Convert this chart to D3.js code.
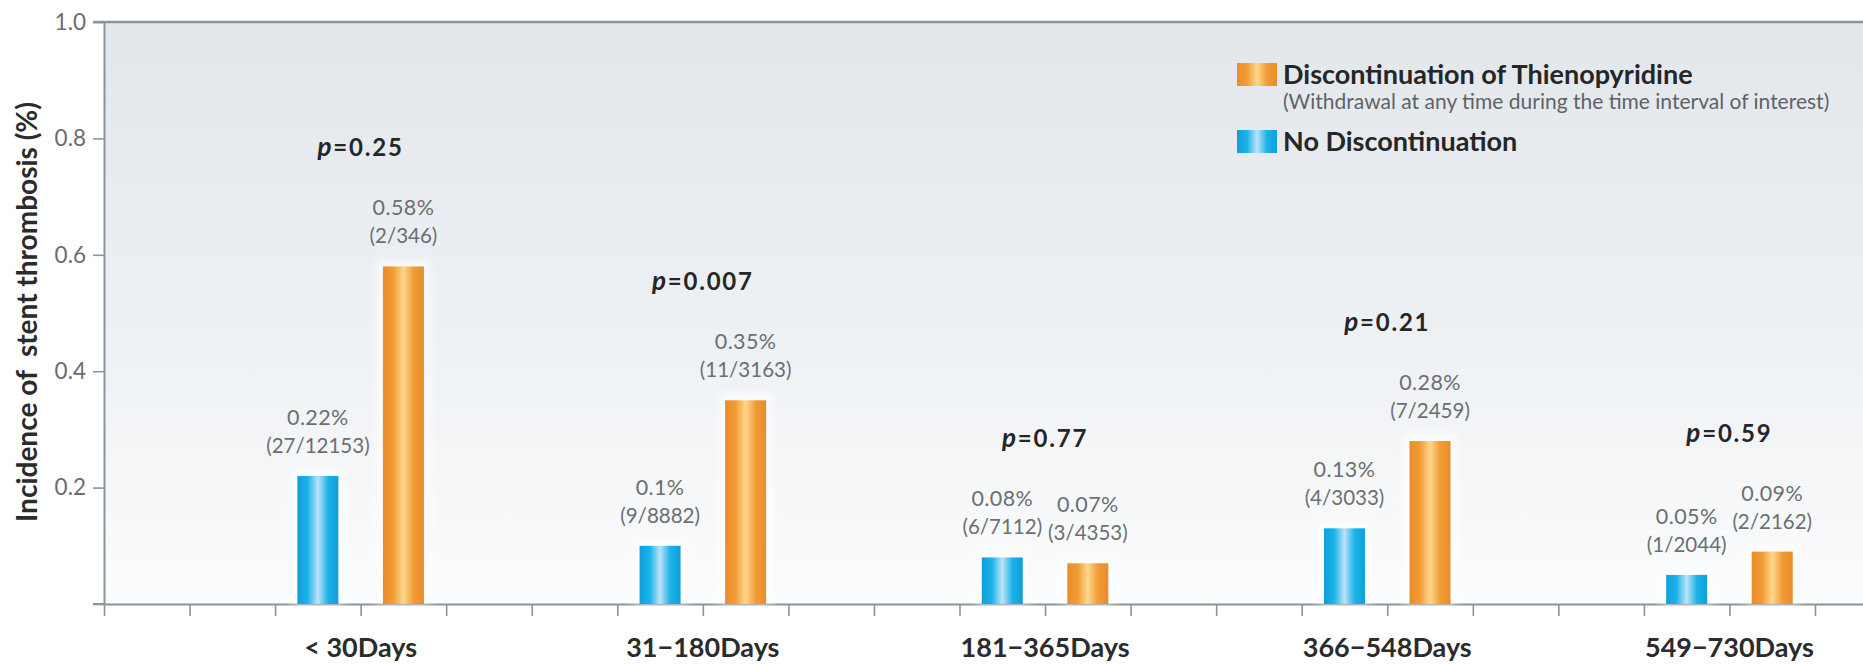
<!DOCTYPE html>
<html><head><meta charset="utf-8">
<script src="https://cdn.jsdelivr.net/npm/d3@7"></script>
<style>
  body { margin: 0; background: #fff; }
  svg text { font-family: "Lato", "Open Sans", sans-serif; }
</style></head>
<body><svg id="chart" width="1863" height="664"></svg>
<script>
// Stent thrombosis incidence by time interval, with and without thienopyridine withdrawal
const categories = ["< 30Days", "31\u2212180Days", "181\u2212365Days", "366\u2212548Days", "549\u2212730Days"];
const noDiscontinuation = [0.22, 0.1, 0.08, 0.13, 0.05];
const noDiscontinuationCounts = ["(27/12153)", "(9/8882)", "(6/7112)", "(4/3033)", "(1/2044)"];
const discontinuation = [0.58, 0.35, 0.07, 0.28, 0.09];
const discontinuationCounts = ["(2/346)", "(11/3163)", "(3/4353)", "(7/2459)", "(2/2162)"];
const pValues = ["0.25", "0.007", "0.77", "0.21", "0.59"];
const yTickValues = [0, 0.2, 0.4, 0.6, 0.8, 1.0];
const seriesKeys = ["none", "disc"];
const legendTitles = ["Discontinuation of Thienopyridine", "No Discontinuation"];
const legendNote = "(Withdrawal at any time during the time interval of interest)";
const yTitle = "Incidence of  stent thrombosis (%)";

const W = 1863, H = 664;
const plotLeft = 104, plotTop = 22, plotBottom = 604;
const unit = 85.55;           // spacing of the minor x ticks
const nUnits = 21;

const svg = d3.select("#chart");
const defs = svg.append("defs");

// plot background: soft grey-blue fading to white at the baseline
const bg = defs.append("linearGradient").attr("id", "bg").attr("x1", 0).attr("y1", 0).attr("x2", 0).attr("y2", 1);
bg.append("stop").attr("offset", "0%").attr("stop-color", "#e2e7ec");
bg.append("stop").attr("offset", "55%").attr("stop-color", "#eef1f4");
bg.append("stop").attr("offset", "100%").attr("stop-color", "#fbfcfd");

function barGradient(id, edge, mid, light) {
  const g = defs.append("linearGradient").attr("id", id).attr("x1", 0).attr("y1", 0).attr("x2", 1).attr("y2", 0);
  [[0, edge], [0.25, mid], [0.5, light], [0.75, mid], [1, edge]].forEach(([o, c]) =>
    g.append("stop").attr("offset", o).attr("stop-color", c));
}
barGradient("gradBlue", "#109ed8", "#1ab3ea", "#bde2f7");
barGradient("gradOrange", "#e98c2a", "#f29c35", "#fdd68c");
const fills = { none: "url(#gradBlue)", disc: "url(#gradOrange)" };

// soft white halo behind bars
defs.append("filter").attr("id", "halo").attr("x", "-50%").attr("y", "-50%").attr("width", "200%").attr("height", "200%")
  .append("feGaussianBlur").attr("stdDeviation", 5);

// scales
const x = d3.scaleLinear().domain([0, nUnits]).range([plotLeft, plotLeft + nUnits * unit]);
const y = d3.scaleLinear().domain([0, 1]).range([plotBottom, plotTop]);
const x0 = d3.scaleBand().domain(categories).range([x(1), x(21)]);
const pad = 1 - 41 / unit;
const x1 = d3.scaleBand().domain(seriesKeys).range([unit, 3 * unit]).paddingInner(pad).paddingOuter(pad / 2);

svg.append("rect").attr("x", plotLeft).attr("y", plotTop).attr("width", W - plotLeft).attr("height", plotBottom - plotTop)
  .attr("fill", "url(#bg)");

// top frame line
svg.append("line").attr("x1", plotLeft - 11).attr("x2", W).attr("y1", plotTop).attr("y2", plotTop)
  .attr("stroke", "#8b9599").attr("stroke-width", 2.5);

// y axis
const yAxis = svg.append("g").attr("transform", `translate(${plotLeft},0)`)
  .call(d3.axisLeft(y).tickValues(yTickValues).tickSize(11).tickSizeOuter(0).tickPadding(7)
    .tickFormat(d => d === 0 ? "" : d3.format(".1f")(d)));
yAxis.select(".domain").attr("stroke", "#8b9599").attr("stroke-width", 2);
yAxis.selectAll(".tick line").attr("stroke", "#8b9599").attr("stroke-width", 1.6);
yAxis.selectAll(".tick text").attr("fill", "#6a6d70").style("font-size", "22.5px").style("font-family", "Lato");

// x axis with minor ticks
const xAxis = svg.append("g").attr("transform", `translate(0,${plotBottom})`)
  .call(d3.axisBottom(x).tickValues(d3.range(0, nUnits)).tickSize(12).tickSizeOuter(0).tickFormat(""));
xAxis.select(".domain").attr("stroke", "#8b9599").attr("stroke-width", 2);
xAxis.selectAll(".tick line").attr("stroke", "#8b9599").attr("stroke-width", 1.6);
// extend the baseline leftwards past the y axis
svg.append("line").attr("x1", plotLeft - 11).attr("x2", plotLeft).attr("y1", plotBottom).attr("y2", plotBottom)
  .attr("stroke", "#8b9599").attr("stroke-width", 2);

// category labels
svg.append("g").selectAll("text").data(categories).join("text")
  .attr("x", d => x0(d) + x0.bandwidth() / 2).attr("y", 657)
  .attr("text-anchor", "middle").attr("fill", "#2b2b2b")
  .style("font-size", "27px").style("font-weight", "bold")
  .text(d => d);

// bars
const rows = categories.map((c, i) => ({
  cat: c,
  items: [
    { key: "none", value: noDiscontinuation[i], count: noDiscontinuationCounts[i] },
    { key: "disc", value: discontinuation[i], count: discontinuationCounts[i] }
  ],
  p: pValues[i]
}));

const groups = svg.append("g").selectAll("g").data(rows).join("g")
  .attr("transform", d => `translate(${x0(d.cat)},0)`);

groups.selectAll("rect.halo").data(d => d.items).join("rect").attr("class", "halo")
  .attr("x", d => x1(d.key) - 6).attr("width", x1.bandwidth() + 12)
  .attr("y", d => y(d.value) - 6).attr("height", d => y(0) - y(d.value) + 6)
  .attr("fill", "#ffffff").attr("opacity", 0.75).attr("filter", "url(#halo)");

groups.selectAll("rect.bar").data(d => d.items).join("rect").attr("class", "bar")
  .attr("x", d => x1(d.key)).attr("width", x1.bandwidth())
  .attr("y", d => y(d.value)).attr("height", d => y(0) - y(d.value))
  .attr("fill", d => fills[d.key]);

// value labels: percentage and event counts above each bar
const labels = groups.selectAll("g.lbl").data(d => d.items).join("g").attr("class", "lbl")
  .attr("transform", d => `translate(${x1(d.key) + x1.bandwidth() / 2},${y(d.value)})`);
labels.append("text").attr("y", -51).attr("text-anchor", "middle").attr("fill", "#6c6f72")
  .style("font-size", "21.5px").style("letter-spacing", "0.4px").text(d => `${d.value}%`);
labels.append("text").attr("y", -23).attr("text-anchor", "middle").attr("fill", "#6c6f72")
  .style("font-size", "20.5px").text(d => d.count);

// p-values above each pair
const pText = groups.append("text")
  .attr("x", x0.bandwidth() / 2)
  .attr("y", d => y(d3.max(d.items, e => e.value)) - 110)
  .attr("text-anchor", "middle").attr("fill", "#262626")
  .style("font-size", "24px").style("font-weight", "bold").style("letter-spacing", "1.8px");
pText.append("tspan").style("font-style", "italic").style("font-size", "26px").text("p");
pText.append("tspan").text(d => `=${d.p}`);

// y axis title
svg.append("text").attr("transform", "translate(37,312) rotate(-90)")
  .attr("text-anchor", "middle").attr("fill", "#2b2b2b")
  .style("font-size", "28px").style("font-weight", "bold").style("white-space", "pre")
  .text(yTitle);

// legend
const legend = svg.append("g");
const legendItems = [
  { key: "disc", title: legendTitles[0], y: 63 },
  { key: "none", title: legendTitles[1], y: 130 }
];
legend.selectAll("rect").data(legendItems).join("rect")
  .attr("x", 1237).attr("y", d => d.y).attr("width", 40).attr("height", 23)
  .attr("fill", d => fills[d.key]);
legend.selectAll("text.t").data(legendItems).join("text").attr("class", "t")
  .attr("x", 1283).attr("y", d => d.y + 20.5).attr("fill", "#262626")
  .style("font-size", "27px").style("font-weight", "bold").text(d => d.title);
legend.append("text").attr("x", 1283).attr("y", 108.5).attr("fill", "#5f6366")
  .style("font-size", "21px").text(legendNote);
</script></body></html>
